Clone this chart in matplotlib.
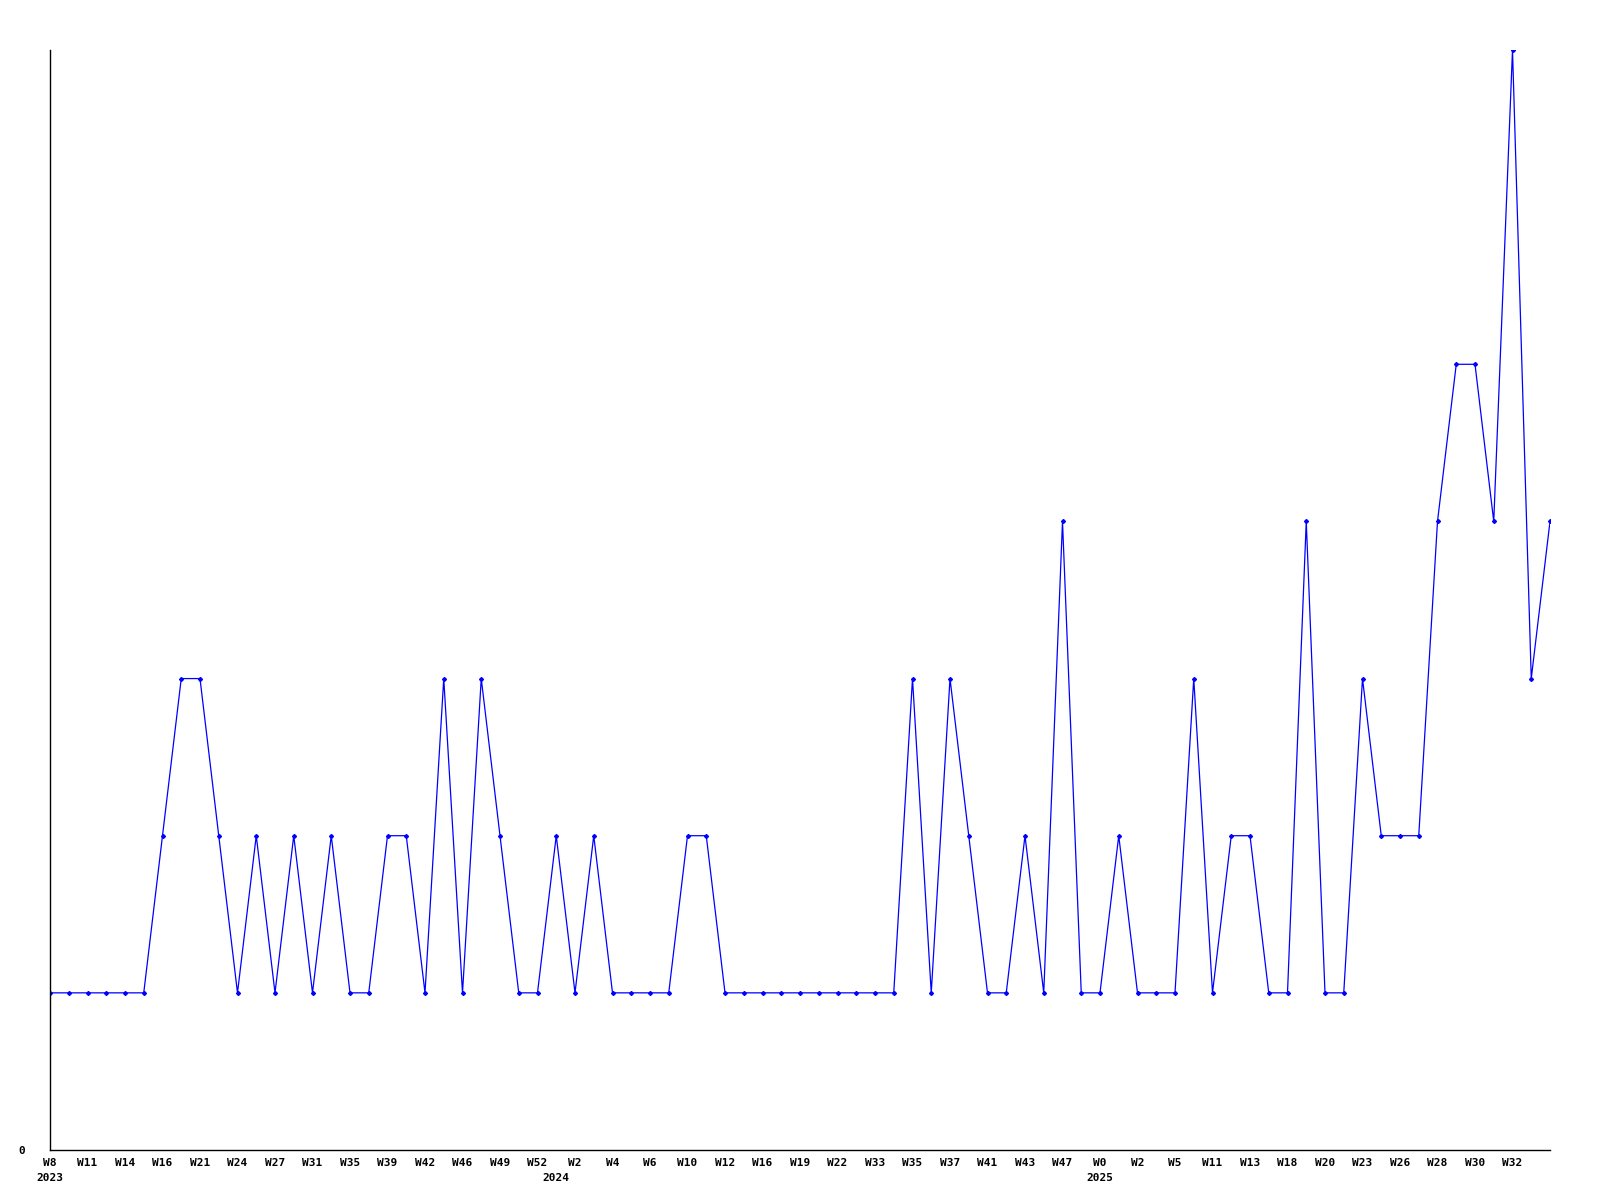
import matplotlib
matplotlib.use("Agg")
import matplotlib.pyplot as plt
import matplotlib.transforms as mtransforms

values = [1, 1, 1, 1, 1, 1, 2, 3, 3, 2,
          1, 2, 1, 2, 1, 2, 1, 1, 2, 2,
          1, 3, 1, 3, 2, 1, 1, 2, 1, 2,
          1, 1, 1, 1, 2, 2, 1, 1, 1, 1,
          1, 1, 1, 1, 1, 1, 3, 1, 3, 2,
          1, 1, 2, 1, 4, 1, 1, 2, 1, 1,
          1, 3, 1, 2, 2, 1, 1, 4, 1, 1,
          3, 2, 2, 2, 4, 5, 5, 4, 7, 3,
          4]

week_labels = ["W8", "W11", "W14", "W16", "W21", "W24", "W27", "W31", "W35", "W39",
               "W42", "W46", "W49", "W52", "W2", "W4", "W6", "W10", "W12", "W16",
               "W19", "W22", "W33", "W35", "W37", "W41", "W43", "W47", "W0", "W2",
               "W5", "W11", "W13", "W18", "W20", "W23", "W26", "W28", "W30", "W32"]
year_labels = ["2023", "2024", "2025"]
year_positions = [0, 27, 56]

fig = plt.figure(figsize=(16, 12), dpi=100)
ax = fig.add_axes([50 / 1600, 50 / 1200, 1500 / 1600, 1100 / 1200])

x = list(range(len(values)))
ax.plot(x, values, color="#0000ff", linewidth=0.9, marker="D", markersize=2.0)

ax.set_xlim(0, len(values) - 1)
ax.set_ylim(0, 7)

for s in ["top", "right"]:
    ax.spines[s].set_visible(False)
for s in ["left", "bottom"]:
    ax.spines[s].set_linewidth(1.0)
    ax.spines[s].set_color("black")

font = dict(family="DejaVu Sans Mono", weight="bold", size=8)

ax.set_yticks([0])
ax.set_yticklabels(["0"], **font)
ax.tick_params(axis="y", length=0, pad=18)

ax.set_xticks(list(range(0, 2 * len(week_labels), 2)))
ax.set_xticklabels(week_labels, **font)
ax.tick_params(axis="x", which="major", length=0, pad=6)

trans = mtransforms.blended_transform_factory(ax.transData, ax.transAxes)
offset = mtransforms.ScaledTranslation(0, -23 / 100, fig.dpi_scale_trans)
for pos, lab in zip(year_positions, year_labels):
    ax.text(pos, 0, lab, transform=trans + offset, ha="center", va="top", **font)

fig.savefig("out.png", dpi=100, facecolor="white")
